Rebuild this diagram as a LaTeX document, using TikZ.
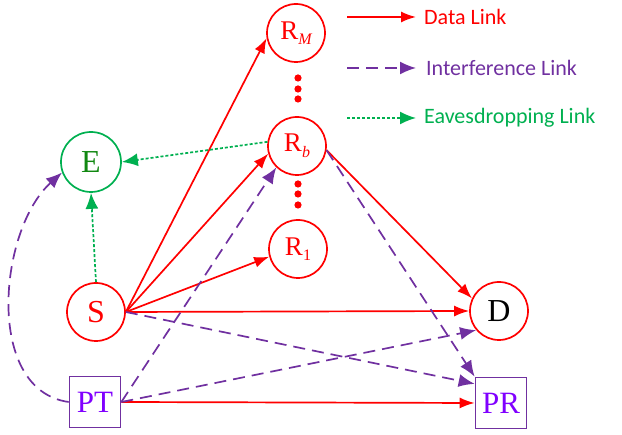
\documentclass[tikz,border=0pt]{standalone}
\usepackage{fontspec}
\setmainfont{Liberation Serif}
\newfontfamily\legendfont{Carlito}
\usetikzlibrary{arrows.meta}

\definecolor{linkred}{RGB}{255,0,0}
\definecolor{linkviolet}{RGB}{112,48,160}
\definecolor{linkgreen}{RGB}{0,176,80}
\definecolor{textviolet}{RGB}{128,0,255}
\definecolor{textgreen}{RGB}{17,136,17}

\newcommand{\relaysub}[1]{%
    % lowered subscript for the relay labels
    % \relaysub{text}
    \raisebox{-0.45ex}{\fontsize{16}{16}\selectfont #1}}

\tikzset{
    relay/.style={circle,draw=linkred,line width=1.7pt,minimum size=58pt,
        inner sep=0pt,text=linkred,font=\fontsize{27}{29}\selectfont},
    endnode/.style={circle,draw=linkred,line width=1.7pt,minimum size=58pt,
        inner sep=0pt,font=\fontsize{32}{34}\selectfont},
    primary/.style={rectangle,draw=linkviolet,line width=1.7pt,
        minimum width=51pt,minimum height=51pt,inner sep=0pt,
        text=textviolet,font=\fontsize{31}{34}\selectfont},
    legendtext/.style={anchor=west,inner sep=0pt,
        font=\legendfont\fontsize{22}{24}\selectfont},
    datalink/.style={-{Latex[length=15pt,width=11pt]},draw=linkred,
        line width=1.7pt},
    interlink/.style={-{Latex[length=16pt,width=13pt]},draw=linkviolet,
        line width=1.7pt,dash pattern=on 12pt off 7pt},
    eavelink/.style={-{Latex[length=16pt,width=13pt]},draw=linkgreen,
        line width=1.7pt,dash pattern=on 3pt off 2pt}
}

\begin{document}
\begin{tikzpicture}[x=1pt,y=1pt]
  \useasboundingbox (0,0) rectangle (622,435);

  % relays
  \node[relay] (relayM) at (296,402) {R\relaysub{\itshape M}};
  \node[relay] (relayB) at (297,289) {R\relaysub{\itshape b}};
  \node[relay] (relayOne) at (298,186) {R\relaysub{1}};
  \foreach \y in {357,346,336,251,241,230}
    \fill[linkred] (298,\y) circle (3.6pt);

  % source, destination, eavesdropper
  \node[endnode,text=linkred] (source) at (96,123) {S};
  \node[endnode] (destination) at (499,124) {D};
  \node[endnode,draw=linkgreen,minimum size=60pt,text=textgreen] (eve)
      at (91,273) {E};

  % primary pair
  \node[primary] (pt) at (95,33) {PT};
  \node[primary] (pr) at (501,32) {PR};

  % data links
  \draw[datalink] (source.east) -- (relayM.190);
  \draw[datalink] (source.east) -- (relayB.195);
  \draw[datalink] (source.east) -- (relayOne.195);
  \draw[datalink] (source.east) -- (destination.west);
  \draw[datalink] (relayB.-8) -- (destination.155);
  \draw[datalink] (pt.east) -- (pr.west);

  % interference links
  \draw[interlink] (source.east) -- (pr.144);
  \draw[interlink] (relayB.-8) -- (pr.north west);
  \draw[interlink] (pt.east) -- (relayB.226);
  \draw[interlink] (pt.east) -- (destination.220);
  \draw[interlink] (pt.west) to[out=172,in=222,looseness=0.95] (eve.200);

  % eavesdropping links
  \draw[eavelink] (source.north) -- (eve.south);
  \draw[eavelink] (relayB.172) -- (eve.east);

  % legend
  \coordinate (legDataA) at (347,418);
  \coordinate (legDataB) at (416,418);
  \coordinate (legInterA) at (347,367);
  \coordinate (legInterB) at (416,367);
  \coordinate (legEaveA) at (347,317);
  \coordinate (legEaveB) at (416,317);
  \draw[datalink] (legDataA) -- (legDataB);
  \draw[interlink] (legInterA) -- (legInterB);
  \draw[eavelink] (legEaveA) -- (legEaveB);
  \node[legendtext,text=linkred] (legData) at (424,418) {Data Link};
  \node[legendtext,text=linkviolet] (legInter) at (426,367)
      {Interference Link};
  \node[legendtext,text=linkgreen] (legEave) at (424,317)
      {Eavesdropping Link};
\end{tikzpicture}
\end{document}
